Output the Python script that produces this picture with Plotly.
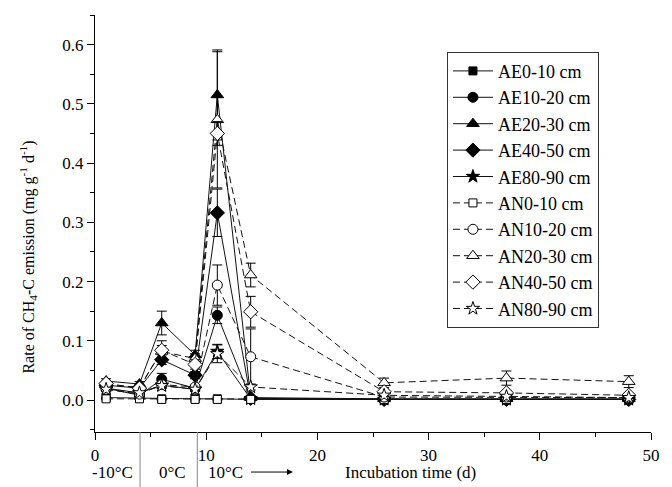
import plotly.graph_objects as go

days = [1, 4, 6, 9, 11, 14, 26, 37, 48]

names = ["AE0-10 cm", "AE10-20 cm", "AE20-30 cm", "AE40-50 cm", "AE80-90 cm",
         "AN0-10 cm", "AN10-20 cm", "AN20-30 cm", "AN40-50 cm", "AN80-90 cm"]

ae0_10 = [0.004, 0.003, 0.002, 0.002, 0.002, 0.001, 0.001, 0.001, 0.001]
ae10_20 = [0.020, 0.008, 0.035, 0.020, 0.143, 0.002, 0.001, 0.001, 0.001]
ae20_30 = [0.032, 0.027, 0.130, 0.076, 0.515, 0.004, 0.002, 0.002, 0.002]
ae40_50 = [0.025, 0.020, 0.068, 0.042, 0.316, 0.003, 0.001, 0.001, 0.001]
ae80_90 = [0.020, 0.012, 0.025, 0.018, 0.082, 0.002, 0.001, 0.001, 0.001]
an0_10 = [0.002, 0.002, 0.001, 0.001, 0.001, 0.001, 0.001, 0.001, 0.001]
an10_20 = [0.018, 0.010, 0.026, 0.022, 0.194, 0.073, 0.005, 0.005, 0.004]
an20_30 = [0.025, 0.022, 0.082, 0.070, 0.473, 0.211, 0.029, 0.037, 0.031]
an40_50 = [0.028, 0.020, 0.084, 0.060, 0.450, 0.149, 0.014, 0.012, 0.008]
an80_90 = [0.018, 0.012, 0.024, 0.018, 0.078, 0.022, 0.008, 0.006, 0.004]

err_ae0_10 = [0.001, 0.001, 0.001, 0.001, 0.001, 0.001, 0.001, 0.001, 0.001]
err_ae10_20 = [0.003, 0.002, 0.010, 0.004, 0.014, 0.001, 0.001, 0.001, 0.001]
err_ae20_30 = [0.004, 0.004, 0.020, 0.008, 0.076, 0.002, 0.001, 0.001, 0.001]
err_ae40_50 = [0.004, 0.003, 0.008, 0.006, 0.040, 0.001, 0.001, 0.001, 0.001]
err_ae80_90 = [0.003, 0.002, 0.004, 0.003, 0.012, 0.001, 0.001, 0.001, 0.001]
err_an0_10 = [0.001, 0.001, 0.001, 0.001, 0.001, 0.001, 0.001, 0.001, 0.001]
err_an10_20 = [0.003, 0.002, 0.006, 0.003, 0.034, 0.047, 0.002, 0.002, 0.001]
err_an20_30 = [0.004, 0.003, 0.010, 0.008, 0.115, 0.020, 0.008, 0.012, 0.010]
err_an40_50 = [0.004, 0.003, 0.016, 0.008, 0.020, 0.026, 0.004, 0.004, 0.003]
err_an80_90 = [0.003, 0.002, 0.004, 0.003, 0.015, 0.005, 0.002, 0.002, 0.001]

values = [ae0_10, ae10_20, ae20_30, ae40_50, ae80_90,
          an0_10, an10_20, an20_30, an40_50, an80_90]
errors = [err_ae0_10, err_ae10_20, err_ae20_30, err_ae40_50, err_ae80_90,
          err_an0_10, err_an10_20, err_an20_30, err_an40_50, err_an80_90]

symbols = ["square", "circle", "triangle-up", "diamond", "star"] * 2
sizes = [8, 10, 11, 11, 10] * 2

FONT = "Liberation Serif"

fig = go.Figure()
for i, (nm, v, e) in enumerate(zip(names, values, errors)):
    open_ = i >= 5
    fig.add_trace(go.Scatter(
        x=days, y=v, name=nm, mode="lines+markers",
        line=dict(color="#111", width=1, dash="7px,4px" if open_ else "solid"),
        marker=dict(symbol=symbols[i], size=sizes[i],
                    color="white" if open_ else "black",
                    line=dict(color="black", width=1)),
        error_y=dict(type="data", array=e, visible=True, color="black",
                     thickness=1, width=5),
    ))

# temperature-phase annotations below the axis
phase_lines = [4.05, 9.2]
for xl in phase_lines:
    fig.add_shape(type="line", xref="x", yref="paper", x0=xl, x1=xl,
                  y0=-0.135, y1=0, line=dict(color="#888", width=1))

ty = -0.096
labels = [("-10°C", 1.6), ("0°C", 7.0), ("10°C", 11.7), ("Incubation time (d)", 28.4)]
for txt, xx in labels:
    fig.add_annotation(x=xx, y=ty, xref="x", yref="paper", text=txt,
                       showarrow=False, font=dict(family=FONT, size=17, color="black"),
                       xanchor="center", yanchor="middle")
fig.add_annotation(x=17.8, y=ty, xref="x", yref="paper", ax=13.9, ay=0,
                   axref="x", ayref="pixel", text="", showarrow=True,
                   arrowhead=2, arrowsize=1.2, arrowwidth=1, arrowcolor="black")

fig.add_annotation(x=-0.121, y=0.42, xref="paper", yref="paper", textangle=-90,
                   text="Rate of CH<sub>4</sub>-C emission (mg g<sup>-1</sup> d<sup>-1</sup>)",
                   showarrow=False, font=dict(family=FONT, size=16, color="black"),
                   xanchor="center", yanchor="middle")

fig.update_layout(
    width=672, height=487,
    margin=dict(l=95, r=14, t=15, b=55),
    paper_bgcolor="white", plot_bgcolor="white",
    font=dict(family=FONT, size=17, color="black"),
    showlegend=True,
    legend=dict(x=0.633, y=0.912, xanchor="left", yanchor="top",
                bordercolor="#333", borderwidth=1, bgcolor="white",
                font=dict(family=FONT, size=18), itemwidth=40,
                tracegroupgap=0),
)
fig.update_xaxes(range=[0, 50], tickvals=[0, 10, 20, 30, 40, 50],
                 showline=True, linecolor="black", linewidth=1.2,
                 ticks="outside", ticklen=7, tickwidth=1.2, tickcolor="black",
                 minor=dict(ticks="outside", ticklen=4, tickwidth=1, tickcolor="black", dtick=5),
                 showgrid=False, zeroline=False)
fig.update_yaxes(range=[-0.054, 0.65], tickvals=[0, 0.1, 0.2, 0.3, 0.4, 0.5, 0.6],
                 tickformat=".1f",
                 showline=True, linecolor="black", linewidth=1.2,
                 ticks="outside", ticklen=7, tickwidth=1.2, tickcolor="black",
                 minor=dict(ticks="outside", ticklen=4, tickwidth=1, tickcolor="black", dtick=0.05),
                 showgrid=False, zeroline=False)

fig.write_html("out.html")
